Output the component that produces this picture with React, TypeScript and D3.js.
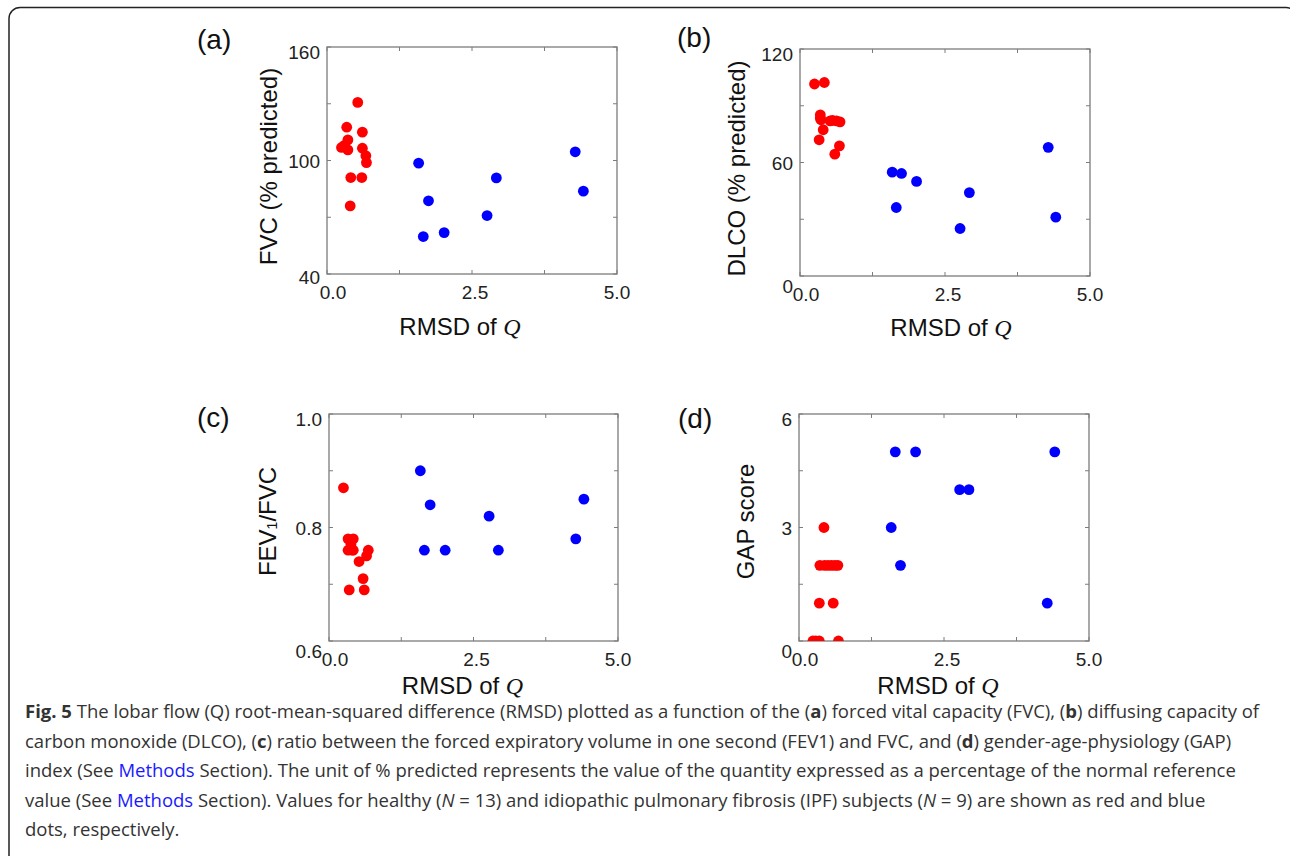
import React from 'react';
import * as d3 from 'd3';

// x = RMSD of Q, y = panel quantity
const fvcHealthy = [
  [0.53, 130.7], [0.34, 117.6], [0.61, 115], [0.36, 110.9], [0.25, 106.9], [0.36, 105.6], [0.30, 108],
  [0.61, 106.5], [0.67, 102.5], [0.68, 98.9], [0.41, 91], [0.60, 91], [0.40, 76],
];
const fvcIpf = [
  [1.58, 98.6], [1.66, 59.8], [1.75, 78.7], [2.02, 61.9], [2.76, 70.9], [2.92, 90.8], [4.28, 104.6], [4.42, 83.8],
];

const dlcoHealthy = [
  [0.25, 101.5], [0.42, 102.3], [0.35, 85.2], [0.36, 82.6], [0.52, 82], [0.56, 82.3], [0.63, 82],
  [0.69, 81.5], [0.40, 77.3], [0.33, 72], [0.68, 68.8], [0.60, 64.4], [0.35, 83.5],
];
const dlcoIpf = [
  [1.59, 54.9], [1.66, 36.2], [1.75, 54.2], [2.01, 50], [2.76, 25.1], [2.92, 44.1], [4.28, 68], [4.41, 31.1],
];

const fevHealthy = [
  [0.25, 0.87], [0.33, 0.78], [0.42, 0.78], [0.33, 0.76], [0.42, 0.76], [0.38, 0.77], [0.68, 0.76],
  [0.65, 0.75], [0.52, 0.74], [0.59, 0.71], [0.35, 0.69], [0.61, 0.69], [0.40, 0.76],
];
const fevIpf = [
  [1.58, 0.90], [1.65, 0.76], [1.75, 0.84], [2.01, 0.76], [2.77, 0.82], [2.93, 0.76], [4.27, 0.78], [4.41, 0.85],
];

const gapHealthy = [
  [0.43, 3], [0.36, 2], [0.44, 2], [0.56, 2], [0.67, 2], [0.50, 2], [0.35, 1], [0.59, 1],
  [0.24, 0], [0.35, 0], [0.29, 0], [0.68, 0], [0.62, 2],
];
const gapIpf = [
  [1.59, 3], [1.66, 5], [1.75, 2], [2.01, 5], [2.77, 4], [2.93, 4], [4.28, 1], [4.41, 5],
];

const xTicks = [0, 1.25, 2.5, 3.75, 5];
const xTickLabels = [0, 2.5, 5];

const fvcTicks = [40, 70, 100, 130, 160];
const fvcLabels = [40, 100, 160];
const dlcoTicks = [0, 30, 60, 90, 120];
const dlcoLabels = [0, 60, 120];
const fevTicks = [0.6, 0.7, 0.8, 0.9, 1.0];
const fevLabels = [0.6, 0.8, 1.0];
const gapTicks = [0, 1.5, 3, 4.5, 6];
const gapLabels = [0, 3, 6];

const FONT = '"Liberation Sans", Arial, sans-serif';
const FRAME = '#7c7c7c';

const panels = [
  {
    id: 'a', left: 327, top: 47, w: 290, h: 227, domain: [40, 160],
    ticks: fvcTicks, labels: fvcLabels, fmt: d3.format('d'),
    red: fvcHealthy, blue: fvcIpf, title: 'FVC (% predicted)',
    titleX: -59, titleDy: 6, xTitleDx: -12, xTitleY: 61, minDy: 3, tag: [197, 49],
  },
  {
    id: 'b', left: 800, top: 49, w: 290, h: 227, domain: [0, 120],
    ticks: dlcoTicks, labels: dlcoLabels, fmt: d3.format('d'),
    red: dlcoHealthy, blue: dlcoIpf, title: 'DLCO (% predicted)',
    titleX: -64, titleDy: 6, xTitleDx: 6, xTitleY: 60, minDy: 10, tag: [677, 47],
  },
  {
    id: 'c', left: 329, top: 414, w: 289, h: 227, domain: [0.6, 1.0],
    ticks: fevTicks, labels: fevLabels, fmt: d3.format('.1f'),
    red: fevHealthy, blue: fevIpf, title: 'fev',
    titleX: -62, titleDy: -6, xTitleDx: -11, xTitleY: 53, minDy: 10, tag: [197, 427],
  },
  {
    id: 'd', left: 799, top: 414, w: 290, h: 227, domain: [0, 6],
    ticks: gapTicks, labels: gapLabels, fmt: d3.format('d'),
    red: gapHealthy, blue: gapIpf, title: 'GAP score',
    titleX: -54, titleDy: -6, xTitleDx: -6, xTitleY: 53, minDy: 10, tag: [678, 428],
  },
];

type Seg = { t: string; b?: boolean; i?: boolean; link?: boolean };

const captionLines: Seg[][] = [
  [
    { t: 'Fig. 5', b: true },
    { t: ' The lobar flow (Q) root-mean-squared difference (RMSD) plotted as a function of the (' },
    { t: 'a', b: true }, { t: ') forced vital capacity (FVC), (' }, { t: 'b', b: true },
    { t: ') diffusing capacity of' },
  ],
  [
    { t: 'carbon monoxide (DLCO), (' }, { t: 'c', b: true },
    { t: ') ratio between the forced expiratory volume in one second (FEV1) and FVC, and (' },
    { t: 'd', b: true }, { t: ') gender-age-physiology (GAP)' },
  ],
  [
    { t: 'index (See ' }, { t: 'Methods', link: true },
    { t: ' Section). The unit of % predicted represents the value of the quantity expressed as a percentage of the normal reference' },
  ],
  [
    { t: 'value (See ' }, { t: 'Methods', link: true },
    { t: ' Section). Values for healthy (' }, { t: 'N', i: true }, { t: ' = 13) and idiopathic pulmonary fibrosis (IPF) subjects (' },
    { t: 'N', i: true }, { t: ' = 9) are shown as red and blue' },
  ],
  [{ t: 'dots, respectively.' }],
];

function Panel ({ p }) {
  const x = d3.scaleLinear().domain([0, 5]).range([0, p.w]);
  const y = d3.scaleLinear().domain(p.domain).range([p.h, 0]);
  const tl = 4;
  const clipId = `clip-${p.id}`;

  return (
    <g transform={`translate(${p.left},${p.top})`} fontFamily={FONT}>
      <defs>
        <clipPath id={clipId}>
          <rect x={0} y={0} width={p.w} height={p.h} />
        </clipPath>
      </defs>

      {/* inward ticks on all four sides */}
      {xTicks.map((t) => (
        <g key={'xt' + t} stroke={FRAME} strokeWidth={1}>
          <line x1={x(t)} x2={x(t)} y1={p.h} y2={p.h - tl} />
          <line x1={x(t)} x2={x(t)} y1={0} y2={tl} />
        </g>
      ))}
      {p.ticks.map((t) => (
        <g key={'yt' + t} stroke={FRAME} strokeWidth={1}>
          <line x1={0} x2={tl} y1={y(t)} y2={y(t)} />
          <line x1={p.w} x2={p.w - tl} y1={y(t)} y2={y(t)} />
        </g>
      ))}
      <rect x={0} y={0} width={p.w} height={p.h} fill="none" stroke={FRAME} strokeWidth={1.3} />

      <g clipPath={`url(#${clipId})`}>
        {p.red.map((d, i) => (
          <circle key={'r' + i} cx={x(d[0])} cy={y(d[1])} r={5.4} fill="#ff0000" />
        ))}
        {p.blue.map((d, i) => (
          <circle key={'b' + i} cx={x(d[0])} cy={y(d[1])} r={5.4} fill="#0000ff" />
        ))}
      </g>

      {/* tick labels */}
      {xTickLabels.map((t, i) => (
        <text key={'xl' + t} x={x(t) + [6, 3, 0][i]} y={p.h + 25} fontSize={19} fill="#222"
          textAnchor="middle">{d3.format('.1f')(t)}</text>
      ))}
      {p.labels.map((t, i) => {
        const dy = i === 0 ? p.minDy : i === p.labels.length - 1 ? 5 : 0;
        return (
          <text key={'yl' + t} x={-7} y={y(t) + 7 + dy} fontSize={19} fill="#222"
            textAnchor="end">{p.fmt(t)}</text>
        );
      })}

      {/* axis titles */}
      <text x={p.w / 2 + p.xTitleDx} y={p.h + p.xTitleY} fontSize={24} fill="#111" textAnchor="middle">
        RMSD of <tspan fontFamily='"Liberation Serif", serif' fontStyle="italic">Q</tspan>
      </text>
      <text transform={`translate(${p.titleX},${p.h / 2 + p.titleDy}) rotate(-90)`}
        fontSize={24} fill="#111" textAnchor="middle" dominantBaseline="central">
        {p.title === 'fev'
          ? <>FEV<tspan fontSize={14} dy={5}>1</tspan><tspan dy={-5}>/FVC</tspan></>
          : p.title}
      </text>
    </g>
  );
}

export default function App () {
  return (
    <svg width={1290} height={856} style={{ position: 'absolute', left: 0, top: 0, background: '#fff' }}>
      <rect x={9} y={7.5} width={1288} height={900} rx={11} fill="#fff" stroke="#222" strokeWidth={1.5} />

      {panels.map((p) => (
        <g key={p.id}>
          <Panel p={p} />
          <text x={p.tag[0]} y={p.tag[1]} fontSize={28} fontFamily={FONT} fill="#111">({p.id})</text>
        </g>
      ))}

      <g fontFamily='"Open Sans", sans-serif' fontSize={18.5} fill="#333">
        {captionLines.map((line, li) => (
          <text key={li} x={25} y={718 + li * 29.6}>
            {line.map((s, si) => (
              <tspan key={si} fontWeight={s.b ? 'bold' : undefined}
                fontStyle={s.i ? 'italic' : undefined}
                fill={s.link ? '#1a1aff' : undefined}>{s.t}</tspan>
            ))}
          </text>
        ))}
      </g>
    </svg>
  );
}
